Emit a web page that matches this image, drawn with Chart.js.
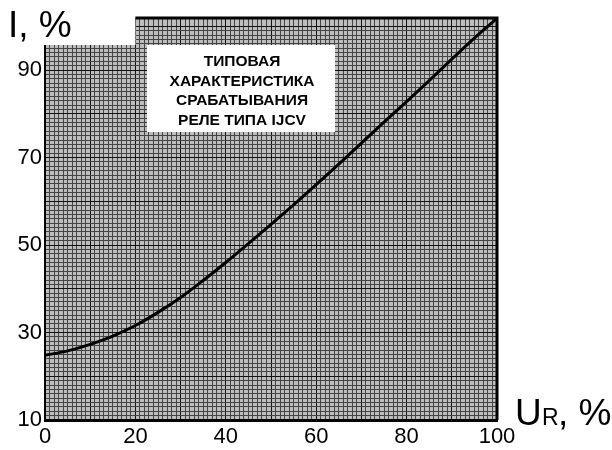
<!DOCTYPE html>
<html lang='ru'>
  <head>
    <meta charset='UTF-8'>
    <title>Типовая характеристика срабатывания реле типа IJCV</title>
    <script src='https://cdn.jsdelivr.net/npm/chart.js@4.4.0/dist/chart.umd.min.js'></script>
    <style>
      html, body { margin: 0; padding: 0; background: #fff; }
      #wrap { position: relative; width: 612px; height: 450px; }
    </style>
  </head>
  <body>
    <div id='wrap'><canvas id='grafico'></canvas></div>
    <script>
      // Данные кривой (U_R, % -> I, %)
      let uValues = [0, 5, 10, 15, 20, 25, 30, 35, 40, 45, 50, 55, 60, 65, 70, 75, 80, 85, 90, 95, 100];
      let iValues = [24.8, 25.8, 27.3, 29.2, 31.6, 34.6, 38.0, 41.9, 46.0, 50.3, 54.7, 59.2, 63.8, 68.5, 73.3, 78.1, 82.8, 87.6, 92.5, 97.3, 101.8];

      let xLabels = [0, 20, 40, 60, 80, 100];
      let yLabels = [10, 30, 50, 70, 90];
      let titleLines = ['ТИПОВАЯ', 'ХАРАКТЕРИСТИКА', 'СРАБАТЫВАНИЯ', 'РЕЛЕ ТИПА IJCV'];

      let font = 'Liberation Sans, Arial, sans-serif';

      // фон, вырез сверху слева, рамка и табличка
      let paperPlugin = {
        id: 'paper',
        beforeDraw(chart) {
          let {ctx, chartArea: a} = chart;
          ctx.save();
          ctx.fillStyle = '#bdbdbd';
          ctx.fillRect(a.left, a.top, a.right - a.left, a.bottom - a.top);
          ctx.restore();
        },
        beforeDatasetsDraw(chart) {
          let {ctx, chartArea: a, scales} = chart;
          let cut = scales.x.getPixelForValue(20);
          ctx.save();
          ctx.fillStyle = '#fff';
          ctx.fillRect(a.left - 2, a.top - 2, cut - a.left + 2, 29);

          ctx.strokeStyle = '#000';
          ctx.lineWidth = 3;
          ctx.beginPath();
          ctx.moveTo(cut, a.top);
          ctx.lineTo(a.right, a.top);
          ctx.lineTo(a.right, a.bottom);
          ctx.stroke();

          // табличка
          let bx = a.left + 102, by = a.top + 27, bw = 188, bh = 87;
          ctx.fillStyle = '#fff';
          ctx.fillRect(bx, by, bw, bh);
          ctx.fillStyle = '#000';
          ctx.font = 'bold 15.5px ' + font;
          ctx.textAlign = 'center';
          ctx.textBaseline = 'middle';
          titleLines.forEach((t, i) => ctx.fillText(t, bx + bw / 2 + 1, by + 17 + i * 19.5));

          // подписи осей
          ctx.textAlign = 'left';
          ctx.textBaseline = 'alphabetic';
          ctx.font = '37px ' + font;
          ctx.fillText('I, %', 8, 37);
          ctx.fillText('U', 515, 425);
          ctx.font = '23px ' + font;
          ctx.fillText('R', 542, 425);
          ctx.font = '37px ' + font;
          ctx.fillText(', %', 558, 425);
          ctx.restore();
        }
      };

      let ctx = document.getElementById('grafico').getContext('2d');

      let chartConfig = {
        type: 'scatter',
        data: {
          datasets: [{
            data: uValues.map((u, i) => ({x: u, y: iValues[i]})),
            showLine: true,
            borderColor: '#000',
            borderWidth: 3,
            pointRadius: 0,
            cubicInterpolationMode: 'monotone',
            clip: 4,
          }]
        },
        options: {
          responsive: false,
          animation: false,
          layout: { padding: { left: 0, right: 115, top: 18, bottom: 0 } },
          plugins: { legend: { display: false }, tooltip: { enabled: false } },
          scales: {
            x: {
              type: 'linear',
              min: 0,
              max: 100,
              afterFit: s => { s.height = 30; },
              border: { display: true, color: '#000', width: 3 },
              grid: {
                drawTicks: false,
                color: c => c.tick.value % 10 === 0 ? '#111' : '#444',
                lineWidth: 1,
              },
              ticks: {
                stepSize: 1,
                autoSkip: false,
                maxRotation: 0,
                padding: 4,
                color: '#000',
                font: { family: font, size: 22 },
                callback: v => xLabels.includes(v) ? String(v) : '',
              },
            },
            y: {
              type: 'linear',
              min: 10,
              max: 101.9,
              afterFit: s => { s.width = 45; },
              border: { display: true, color: '#000', width: 2 },
              grid: {
                drawTicks: false,
                color: c => c.tick.value % 10 === 0 ? '#111' : '#444',
                lineWidth: 1,
              },
              ticks: {
                stepSize: 1,
                autoSkip: false,
                padding: 3,
                color: '#000',
                font: { family: font, size: 22 },
                callback: v => yLabels.includes(v) ? String(v) : '',
              },
            },
          },
        },
        plugins: [paperPlugin],
      };

      let canvas = document.getElementById('grafico');
      canvas.width = 612;
      canvas.height = 450;
      let myChart = new Chart(ctx, chartConfig);
    </script>
  </body>
</html>
